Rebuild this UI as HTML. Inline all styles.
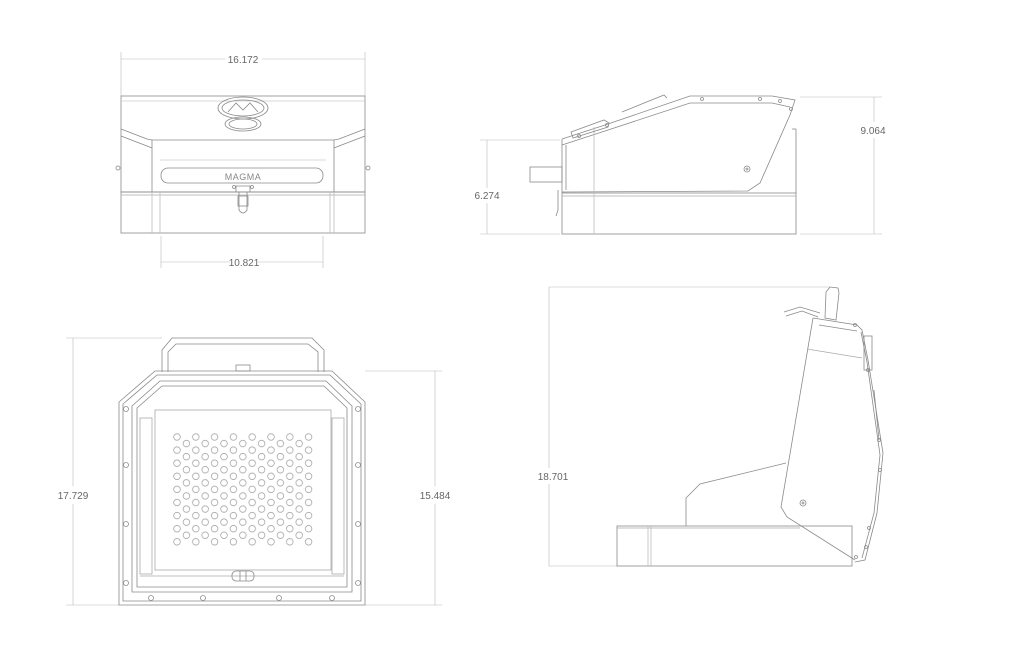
<!DOCTYPE html>
<html><head><meta charset="utf-8"><style>
html,body{margin:0;padding:0;background:#fff;width:1024px;height:663px;overflow:hidden}
svg{display:block}
text{font-family:"Liberation Sans",sans-serif;font-size:10px;fill:#666}
</style></head><body>
<svg width="1024" height="663" viewBox="0 0 1024 663" xmlns="http://www.w3.org/2000/svg">
<defs>
<pattern id="pa" x="167.6" y="430.45" width="18.8" height="13.1" patternUnits="userSpaceOnUse"><circle cx="9.4" cy="6.55" r="3.3" fill="none" stroke="#999" stroke-width="0.7"/></pattern>
<pattern id="pb" x="177" y="437" width="18.8" height="13.1" patternUnits="userSpaceOnUse"><circle cx="9.4" cy="6.55" r="3.3" fill="none" stroke="#999" stroke-width="0.7"/></pattern>
</defs>
<g fill="none" stroke="#8a8a8a" stroke-width="0.8">
<!-- ===== VIEW 1 front ===== -->
<g stroke="#bbb" stroke-width="0.6">
<line x1="121" y1="52" x2="121" y2="96"/><line x1="365" y1="52" x2="365" y2="96"/>
<line x1="121" y1="59" x2="225" y2="59"/><line x1="262" y1="59" x2="365" y2="59"/>
<line x1="161" y1="236" x2="161" y2="268"/><line x1="323" y1="236" x2="323" y2="268"/>
<line x1="161" y1="262" x2="230" y2="262"/><line x1="258" y1="262" x2="323" y2="262"/>
</g>
<rect x="121" y="96" width="244" height="96"/>
<polyline points="121,129 147,139 152,140 334,140 339,139 365,129"/>
<polyline points="121,136 147,146 152,148"/><polyline points="365,136 339,146 334,148"/>
<line x1="152" y1="140" x2="152" y2="192"/><line x1="334" y1="140" x2="334" y2="192"/>
<line x1="121" y1="101" x2="365" y2="101" stroke="#ccc"/>
<line x1="160" y1="160" x2="326" y2="160" stroke="#ccc"/>
<ellipse cx="243" cy="108" rx="25" ry="11"/><ellipse cx="243" cy="108" rx="21" ry="8"/>
<polyline points="228,112 236,103 243,110 250,103 258,112"/>
<ellipse cx="243" cy="124" rx="18" ry="7"/><ellipse cx="243" cy="124" rx="14" ry="5"/>
<rect x="161" y="168" width="162" height="15" rx="7"/>
<rect x="121" y="192" width="244" height="41"/>
<line x1="121" y1="195" x2="365" y2="195" stroke="#aaa"/>
<line x1="152" y1="192" x2="152" y2="233" stroke="#bbb"/><line x1="160" y1="192" x2="160" y2="233" stroke="#bbb"/>
<line x1="330" y1="192" x2="330" y2="233" stroke="#bbb"/><line x1="334" y1="192" x2="334" y2="233" stroke="#bbb"/>
<path d="M236,186 h14 v6 h-3 v18 q-4,6 -8,0 v-18 h-3z"/><rect x="238" y="196" width="10" height="10"/>
<circle cx="234" cy="187" r="1.5"/><circle cx="252" cy="187" r="1.5"/>
<circle cx="118" cy="168" r="2"/><circle cx="368" cy="168" r="2"/>
<!-- ===== VIEW 2 side closed ===== -->
<g stroke="#bbb" stroke-width="0.6">
<line x1="480" y1="140" x2="560" y2="140"/><line x1="480" y1="234" x2="560" y2="234"/>
<line x1="487" y1="140" x2="487" y2="188"/><line x1="487" y1="203" x2="487" y2="234"/>
<line x1="800" y1="97" x2="882" y2="97"/><line x1="800" y1="234" x2="882" y2="234"/>
<line x1="874" y1="97" x2="874" y2="122"/><line x1="874" y1="138" x2="874" y2="234"/>
</g>
<rect x="562" y="193" width="234" height="41"/>
<line x1="562" y1="196" x2="796" y2="196" stroke="#aaa"/>
<line x1="792" y1="129" x2="796" y2="129"/><line x1="796" y1="129" x2="796" y2="193"/>
<polyline points="562,139 605,125 690,96 772,96 795,100 790,115 760,183 748,191 562,192"/>
<polyline points="562,145 605,131 690,103 772,103 790,107"/>
<line x1="594" y1="127" x2="594" y2="234" stroke="#bbb"/>
<line x1="562" y1="139" x2="562" y2="193"/><line x1="566" y1="145" x2="566" y2="190"/>
<path d="M571,132 l33,-12 l5,3 l-1,4 l-35,11z"/>
<path d="M622,112 l42,-17 l3,3"/>
<rect x="530" y="167" width="32" height="15"/>
<path d="M558,190 v20 l-2,6"/>
<circle cx="747" cy="169" r="3"/><circle cx="747" cy="169" r="1"/>
<circle cx="702" cy="99" r="1.5"/><circle cx="760" cy="99" r="1.5"/><circle cx="780" cy="101" r="1.5"/><circle cx="791" cy="109" r="1.5"/><circle cx="607" cy="125" r="1.5"/><circle cx="579" cy="136" r="1.5"/>
<!-- ===== VIEW 3 top open ===== -->
<g stroke="#bbb" stroke-width="0.6">
<line x1="66" y1="338" x2="162" y2="338"/><line x1="66" y1="605" x2="119" y2="605"/>
<line x1="73" y1="338" x2="73" y2="486"/><line x1="73" y1="504" x2="73" y2="605"/>
<line x1="365" y1="371" x2="442" y2="371"/><line x1="365" y1="605" x2="442" y2="605"/>
<line x1="435" y1="371" x2="435" y2="486"/><line x1="435" y1="504" x2="435" y2="605"/>
</g>
<polyline points="162,372 162,350 172,338 312,338 324,350 324,372"/>
<polyline points="168,372 168,352 176,344 308,344 318,352 318,372"/>
<rect x="236" y="365" width="14" height="6"/>
<polygon points="155,371 332,371 365,402 365,605 119,605 119,402"/>
<polygon points="157,375 330,375 361,404 361,601 123,601 123,404"/>
<polygon points="160,381 326,381 352,406 352,592 132,592 132,406"/>
<polygon points="162,386 324,386 347,408 347,587 137,587 137,408"/>
<rect x="140" y="418" width="12" height="156" stroke="#aaa"/>
<rect x="332" y="418" width="12" height="156" stroke="#aaa"/>
<rect x="155" y="410" width="176" height="160" stroke="#aaa"/>
<line x1="140" y1="576" x2="344" y2="576" stroke="#aaa"/>
<rect x="232" y="571" width="22" height="10" rx="4"/><line x1="240" y1="571" x2="240" y2="581"/><line x1="246" y1="571" x2="246" y2="581"/>
<circle cx="126" cy="409" r="2.5"/><circle cx="126" cy="465" r="2.5"/><circle cx="126" cy="524" r="2.5"/><circle cx="126" cy="583" r="2.5"/>
<circle cx="358" cy="409" r="2.5"/><circle cx="358" cy="465" r="2.5"/><circle cx="358" cy="524" r="2.5"/><circle cx="358" cy="583" r="2.5"/>
<circle cx="151" cy="598" r="2.5"/><circle cx="203" cy="598" r="2.5"/><circle cx="279" cy="598" r="2.5"/><circle cx="332" cy="598" r="2.5"/>
</g>
<rect x="167.6" y="430.45" width="150.4" height="117.9" fill="url(#pa)"/>
<rect x="177" y="437" width="131.6" height="104.8" fill="url(#pb)"/>
<g fill="none" stroke="#8a8a8a" stroke-width="0.8">
<!-- ===== VIEW 4 side open ===== -->
<g stroke="#bbb" stroke-width="0.6">
<line x1="549" y1="287" x2="830" y2="287"/><line x1="549" y1="566" x2="617" y2="566"/>
<line x1="549" y1="287" x2="549" y2="468"/><line x1="549" y1="484" x2="549" y2="566"/>
</g>
<rect x="617" y="526" width="235" height="40"/>
<line x1="617" y1="528" x2="800" y2="528" stroke="#aaa"/>
<line x1="648" y1="526" x2="648" y2="566" stroke="#bbb"/><line x1="651" y1="526" x2="651" y2="566" stroke="#bbb"/>
<polyline points="686,526 686,498 700,484 786,463"/>
<polyline points="813,318 857,325 862,330 868,360 883,453 877,513 865,560 855,562"/>
<polyline points="813,318 781,507 787,517 855,560"/>
<polyline points="819,325 857,331"/>
<line x1="807" y1="349" x2="862" y2="358" stroke="#aaa"/>
<polyline points="861,332 867,362 880,455 874,513 862,558"/>
<polygon points="825,318 826,292 830,287 838,288 839,293 836,320"/>
<polyline points="784,312 800,307 820,313"/><polyline points="786,316 802,311 818,317"/>
<rect x="864" y="336" width="8" height="34"/>
<line x1="874" y1="390" x2="879" y2="440"/>
<circle cx="803" cy="503" r="3"/><circle cx="803" cy="503" r="1"/>
<circle cx="855" cy="325" r="1.5"/><circle cx="868" cy="370" r="1.5"/><circle cx="879" cy="440" r="1.5"/><circle cx="880" cy="470" r="1.5"/><circle cx="869" cy="528" r="1.5"/><circle cx="866" cy="547" r="1.5"/><circle cx="856" cy="557" r="1.5"/>
</g>
<text x="243" y="63" text-anchor="middle">16.172</text>
<text x="244" y="266" text-anchor="middle">10.821</text>
<text x="487" y="199" text-anchor="middle">6.274</text>
<text x="873" y="134" text-anchor="middle">9.064</text>
<text x="73" y="499" text-anchor="middle">17.729</text>
<text x="435" y="499" text-anchor="middle">15.484</text>
<text x="553" y="480" text-anchor="middle">18.701</text>
<text x="243" y="180" text-anchor="middle" style="font-size:9px;fill:#888;letter-spacing:0.5px">MAGMA</text>
</svg>
</body></html>
